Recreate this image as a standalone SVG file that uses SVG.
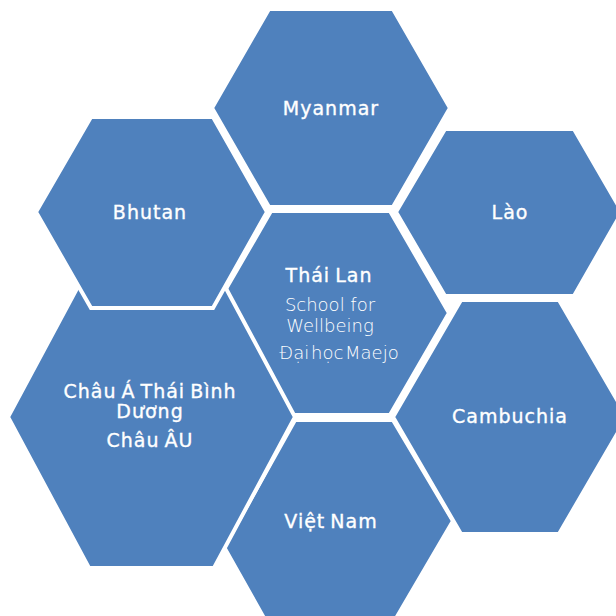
<svg xmlns="http://www.w3.org/2000/svg" width="616" height="616" viewBox="0 0 616 616">
<style>
.hex{fill:#4F81BD;stroke:#FFFFFF;stroke-width:4;stroke-linejoin:miter}
.lbl{font-family:"DejaVu Sans","Liberation Sans",sans-serif;font-size:19px;fill:#FFFFFF;stroke:#FFFFFF;stroke-width:0.35;text-anchor:middle;letter-spacing:1px;word-spacing:-2px}
.sub{font-family:"DejaVu Sans","Liberation Sans",sans-serif;font-weight:200;font-size:18px;fill:#FFFFFF;text-anchor:middle}
</style>
<rect width="616" height="616" fill="#FFFFFF"/>
<g id="thailan">
<polygon class="hex" points="271,211 390,211 449,313 390,415 271,415 212,313"/>
<text class="lbl" x="329" y="282">Thái Lan</text>
<text class="sub" x="330" y="311">School for</text>
<text class="sub" x="330" y="332">Wellbeing</text>
<text class="sub" x="339" y="359" word-spacing="-4">Đại học Maejo</text>
</g>
<g id="vietnam">
<polygon class="hex" points="295,420 393,420 453,521 391,627 269,627 224,547"/>
<text class="lbl" x="331" y="528">Việt Nam</text>
</g>
<g id="chaua">
<polygon class="hex" points="89,266 214,266 295,417 214,568 89,568 8,417"/>
<text class="lbl" x="150" y="398">Châu Á Thái Bình</text>
<text class="lbl" x="150" y="418">Dương</text>
<text class="lbl" x="150" y="447">Châu ÂU</text>
</g>
<g id="bhutan">
<polygon class="hex" points="91,117 213,117 267,212 213,308 91,308 36,212"/>
<text class="lbl" x="150" y="219">Bhutan</text>
</g>
<g id="myanmar">
<polygon class="hex" points="269,9 393,9 450,108 393,207 269,207 212,108"/>
<text class="lbl" x="331" y="115">Myanmar</text>
</g>
<g id="lao">
<polygon class="hex" points="445,129 574,129 622,212 574,296 445,296 396,212"/>
<text class="lbl" x="510" y="219">Lào</text>
</g>
<g id="cambuchia">
<polygon class="hex" points="461,300 559,300 627,417 559,534 461,534 393,417"/>
<text class="lbl" x="510" y="423">Cambuchia</text>
</g>
</svg>
